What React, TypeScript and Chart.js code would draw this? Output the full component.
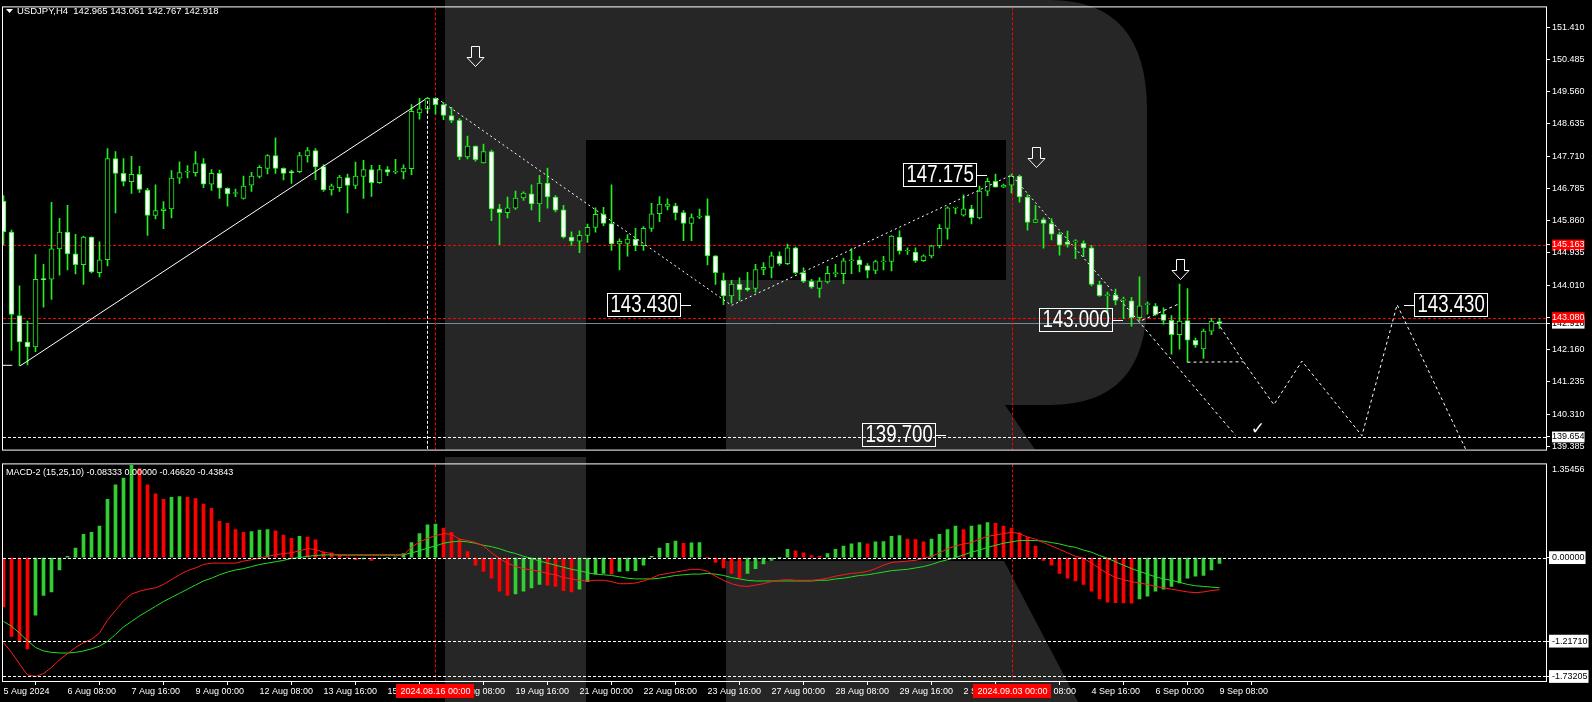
import React, { useEffect, useRef } from 'react';
import { Chart, registerables } from 'chart.js';

Chart.register(...registerables);

// ---------------- data ----------------
const opens = [
  146.42,145.53,143.14,142.38,142.24,144.18,144.18,145.05,145.53,144.91,
  144.60,145.39,144.37,144.74,147.64,147.22,146.98,147.19,146.74,146.01,
  146.15,146.20,147.08,147.25,147.24,147.50,146.91,147.22,146.79,146.64,
  146.50,146.88,147.13,147.36,147.73,147.36,147.26,147.27,147.72,147.87,
  147.41,146.74,146.81,147.10,146.87,147.13,147.33,146.95,147.33,147.25,
  147.26,147.35,148.95,149.07,149.37,149.19,148.88,148.74,147.69,148.00,
  147.52,147.84,146.20,146.09,146.22,146.51,146.63,146.34,146.94,146.54,
  146.17,145.39,145.27,145.44,145.67,146.04,145.78,145.19,145.21,145.33,
  145.14,145.64,146.06,146.27,146.29,146.09,145.78,145.96,146.01,144.85,
  144.15,143.70,144.04,143.93,143.92,144.46,144.52,144.85,144.63,145.08,
  144.37,144.12,143.92,144.10,144.34,144.34,144.71,144.74,144.57,144.43,
  144.68,144.69,145.39,144.99,144.96,144.71,144.85,145.14,145.64,146.22,
  146.02,146.20,145.94,146.71,146.99,146.82,146.88,147.14,146.54,145.81,
  145.89,145.78,145.47,145.25,145.25,145.21,145.08,144.03,143.71,143.73,
  143.58,143.56,143.08,143.45,143.41,143.17,143.00,142.59,142.99,142.43,
  142.18,142.69,142.965,
];
const highs = [
  146.58,145.59,143.99,142.98,144.89,144.61,146.39,145.93,146.30,145.47,
  145.42,145.40,145.25,147.93,147.84,147.64,147.71,147.42,146.79,146.89,
  146.41,147.30,147.55,147.44,147.84,147.64,147.33,147.31,146.80,146.77,
  147.14,147.25,147.44,147.76,148.24,147.38,147.31,147.82,147.96,147.93,
  147.47,146.91,147.16,147.20,147.54,147.59,147.45,147.45,147.41,147.62,
  147.46,149.19,149.37,149.40,149.39,149.25,149.11,148.79,148.29,148.01,
  148.06,147.89,146.33,146.54,146.71,146.69,146.89,147.16,147.37,146.58,
  146.30,145.54,145.57,145.76,146.23,146.24,146.89,145.34,145.46,145.64,
  145.69,146.36,146.55,146.49,146.36,146.15,146.06,146.19,146.49,144.86,
  144.36,144.15,144.22,144.38,144.61,144.66,144.96,144.97,145.19,145.10,
  144.51,144.18,144.23,144.55,144.61,144.78,145.06,144.83,144.63,144.72,
  144.84,145.43,145.57,145.08,145.08,144.88,145.16,145.75,146.26,146.25,
  146.60,146.30,146.85,147.08,147.20,146.91,147.20,147.17,146.60,146.30,
  145.94,145.92,145.53,145.56,145.32,145.28,145.15,144.13,143.81,143.90,
  143.67,143.66,144.25,143.53,143.48,143.36,143.14,144.04,143.91,142.49,
  142.75,143.06,143.061,
];
const lows = [
  145.17,142.14,141.70,141.72,142.10,143.38,143.60,144.30,144.45,144.33,
  144.03,144.36,144.25,144.56,146.08,146.86,146.64,146.67,145.44,145.91,
  145.63,145.94,146.93,147.09,147.14,146.81,146.73,146.50,146.28,146.55,
  146.48,146.70,147.09,147.20,147.22,147.03,146.93,147.24,147.54,147.04,
  146.70,146.59,146.70,146.08,146.78,146.50,146.56,146.93,147.15,147.21,
  147.06,147.18,148.77,148.97,148.92,148.76,148.67,147.61,147.63,147.57,
  147.51,145.86,145.17,145.94,146.18,146.44,146.17,145.83,146.22,146.11,
  145.36,145.15,144.94,145.24,145.53,145.72,145.01,144.45,144.84,145.00,
  145.01,145.55,145.83,146.17,145.88,145.29,145.29,145.92,144.59,144.03,
  143.45,143.49,143.57,143.84,143.81,144.31,144.22,144.58,144.60,144.34,
  144.08,143.92,143.66,144.07,144.25,144.05,144.34,144.39,144.22,144.34,
  144.45,144.42,144.90,144.89,144.66,144.69,144.79,145.08,145.33,146.06,
  145.99,145.77,145.91,146.58,146.82,146.81,146.66,146.39,145.59,145.80,
  145.07,145.31,144.87,145.10,144.77,144.83,143.99,143.69,143.20,143.44,
  143.05,142.83,142.99,143.18,143.14,142.89,142.03,142.17,141.80,142.22,
  141.91,142.59,142.767,
];
const closes = [
  145.54,143.17,142.38,142.24,144.18,144.17,145.05,145.53,144.91,144.60,
  145.39,144.39,144.74,147.64,147.22,146.99,147.19,146.76,146.01,146.15,
  146.20,147.08,147.24,147.26,147.50,146.91,147.22,146.79,146.63,146.65,
  146.85,147.14,147.39,147.73,147.36,147.22,147.24,147.73,147.87,147.40,
  146.74,146.86,147.11,146.87,147.14,147.33,146.95,147.33,147.25,147.26,
  147.37,149.00,149.07,149.37,149.19,148.88,148.74,147.69,148.00,147.61,
  147.84,146.20,146.09,146.23,146.51,146.65,146.34,146.94,146.54,146.16,
  145.39,145.27,145.44,145.67,146.04,145.78,145.19,145.27,145.33,145.14,
  145.64,146.06,146.34,146.34,146.08,145.78,145.95,145.97,144.85,144.37,
  143.70,144.04,143.87,143.87,144.46,144.52,144.85,144.63,145.08,144.37,
  144.12,143.95,144.13,144.35,144.35,144.71,144.74,144.60,144.43,144.69,
  144.69,145.42,144.99,145.00,144.71,144.85,145.14,145.64,146.23,146.23,
  146.20,145.95,146.71,146.99,146.82,146.88,147.14,146.54,145.81,145.89,
  145.78,145.47,145.16,145.18,145.25,145.08,144.03,143.71,143.72,143.57,
  143.58,143.08,143.42,143.45,143.17,143.00,142.59,142.98,142.43,142.29,
  142.69,142.98,142.918,
];

const macdHist = [
  -0.72,-1.15,-1.22,-1.33,-0.84,-0.55,-0.50,-0.18,0.02,0.14,
  0.34,0.37,0.46,0.85,1.06,1.16,1.35,1.30,1.06,0.93,
  0.85,0.88,0.89,0.88,0.86,0.78,0.72,0.53,0.50,0.41,
  0.37,0.38,0.40,0.41,0.39,0.33,0.28,0.31,0.30,0.26,
  0.08,0.07,0.04,0.00,-0.03,-0.02,-0.04,-0.01,0.00,0.01,
  0.06,0.22,0.35,0.48,0.49,0.43,0.37,0.27,0.09,-0.11,
  -0.20,-0.30,-0.49,-0.55,-0.53,-0.49,-0.44,-0.39,-0.40,-0.42,
  -0.48,-0.50,-0.46,-0.35,-0.24,-0.23,-0.24,-0.20,-0.195,-0.19,
  -0.11,0.02,0.14,0.21,0.24,0.21,0.215,0.22,0.00,-0.07,
  -0.15,-0.23,-0.30,-0.23,-0.16,-0.09,-0.04,0.00,0.12,0.10,
  0.07,0.03,0.02,0.06,0.12,0.17,0.20,0.22,0.20,0.23,
  0.235,0.31,0.32,0.27,0.265,0.23,0.27,0.34,0.41,0.46,
  0.41,0.46,0.48,0.51,0.50,0.46,0.43,0.36,0.30,0.17,
  -0.04,-0.11,-0.23,-0.30,-0.34,-0.39,-0.49,-0.60,-0.65,-0.655,
  -0.66,-0.665,-0.60,-0.56,-0.49,-0.46,-0.42,-0.37,-0.30,-0.27,
  -0.26,-0.18,-0.08333,
];
const macdLine = [
  -1.24,-1.38,-1.55,-1.71,-1.73,-1.69,-1.60,-1.49,-1.40,-1.31,
  -1.24,-1.19,-1.10,-0.91,-0.77,-0.63,-0.53,-0.49,-0.46,-0.44,
  -0.39,-0.32,-0.25,-0.19,-0.15,-0.10,-0.08,-0.08,-0.08,-0.08,
  -0.05,-0.03,-0.005,0.02,0.04,0.06,0.07,0.10,0.13,0.12,
  0.08,0.06,0.03,0.03,0.03,0.03,0.03,0.03,0.03,0.03,
  0.04,0.15,0.23,0.28,0.32,0.35,0.34,0.27,0.25,0.22,
  0.17,0.07,-0.01,-0.08,-0.13,-0.16,-0.18,-0.20,-0.23,-0.25,
  -0.29,-0.31,-0.33,-0.34,-0.33,-0.33,-0.35,-0.38,-0.38,-0.37,
  -0.34,-0.30,-0.25,-0.23,-0.21,-0.19,-0.17,-0.17,-0.20,-0.27,
  -0.33,-0.38,-0.41,-0.42,-0.40,-0.38,-0.35,-0.33,-0.32,-0.33,
  -0.33,-0.33,-0.32,-0.30,-0.27,-0.25,-0.23,-0.22,-0.20,-0.16,
  -0.11,-0.07,-0.06,-0.05,-0.04,-0.01,0.02,0.07,0.13,0.17,
  0.20,0.22,0.27,0.31,0.33,0.35,0.37,0.35,0.30,0.27,
  0.22,0.17,0.12,0.07,0.02,-0.01,-0.08,-0.16,-0.23,-0.29,
  -0.32,-0.35,-0.37,-0.39,-0.42,-0.44,-0.46,-0.48,-0.50,-0.51,
  -0.50,-0.48,-0.4662,
];
const signalLine = [
  -0.93,-1.00,-1.10,-1.21,-1.31,-1.36,-1.38,-1.39,-1.39,-1.38,
  -1.36,-1.33,-1.29,-1.22,-1.12,-1.01,-0.93,-0.85,-0.78,-0.71,
  -0.64,-0.58,-0.52,-0.46,-0.40,-0.34,-0.30,-0.25,-0.21,-0.18,
  -0.16,-0.13,-0.10,-0.08,-0.06,-0.04,-0.01,0.00,0.02,0.03,
  0.04,0.04,0.04,0.04,0.04,0.04,0.04,0.04,0.04,0.04,
  0.04,0.07,0.10,0.14,0.17,0.21,0.23,0.24,0.23,0.21,
  0.18,0.16,0.13,0.09,0.06,0.02,-0.01,-0.05,-0.08,-0.11,
  -0.14,-0.17,-0.19,-0.22,-0.24,-0.25,-0.26,-0.28,-0.30,-0.31,
  -0.31,-0.31,-0.30,-0.28,-0.26,-0.25,-0.24,-0.24,-0.23,-0.24,
  -0.26,-0.29,-0.31,-0.33,-0.34,-0.34,-0.34,-0.34,-0.34,-0.34,
  -0.34,-0.34,-0.33,-0.33,-0.31,-0.30,-0.28,-0.26,-0.25,-0.23,
  -0.21,-0.19,-0.18,-0.17,-0.15,-0.13,-0.10,-0.06,-0.03,0.00,
  0.04,0.08,0.11,0.15,0.18,0.21,0.23,0.25,0.25,0.25,
  0.24,0.22,0.20,0.17,0.15,0.11,0.08,0.03,-0.01,-0.06,
  -0.11,-0.16,-0.20,-0.24,-0.28,-0.31,-0.33,-0.36,-0.39,-0.41,
  -0.42,-0.43,-0.43843,
];

const xTickIdx = [0,8,16,24,32,40,48,56,64,72,80,88,96,104,112,120,128,136,144,152];
const xTickLabels = [
  '5 Aug 2024','6 Aug 08:00','7 Aug 16:00','9 Aug 00:00','12 Aug 08:00','13 Aug 16:00',
  '15 Aug 00:00','16 Aug 08:00','19 Aug 16:00','21 Aug 00:00','22 Aug 08:00','23 Aug 16:00',
  '27 Aug 00:00','28 Aug 08:00','29 Aug 16:00','2 Sep 00:00','3 Sep 08:00','4 Sep 16:00',
  '6 Sep 00:00','9 Sep 08:00',
];
const priceTicks = [151.41,150.485,149.56,148.635,147.71,146.785,145.86,145.163,144.935,144.01,142.918,143.08,142.16,141.235,140.31,139.654,139.385];
const redLevels = [145.163, 143.08];
const bidPrice = 142.918;
const supportLevel = 139.654;
const macdTicks = [0, -1.2171, -1.73205];
const macdTopLabel = '1.35456';
const vLineIdx = [54, 126];
const vLineLabels = ['2024.08.16 00:00', '2024.09.03 00:00'];

const trendLine = [{ x: 2.05, y: 141.69 }, { x: 52.7, y: 149.34 }];
const trendTag = [{ x: -0.3, y: 141.71 }, { x: 1.1, y: 141.71 }];
const vDashLine = [{ x: 53, y: 149.3 }, { x: 53, y: 139.0 }];
const zigzag = [{ x: 54.2, y: 149.37 }, { x: 91.0, y: 143.43 }, { x: 126.0, y: 147.17 }, { x: 141.8, y: 143.0 }];
const forecastA = [{ x: 141.8, y: 143.0 }, { x: 154.0, y: 139.7 }];
const forecastB = [{ x: 142.3, y: 143.0 }, { x: 146.8, y: 143.46 }];
const forecastH = [{ x: 148.0, y: 141.80 }, { x: 155.0, y: 141.81 }];
const forecastC = [
  { x: 151.7, y: 142.95 }, { x: 155.0, y: 141.81 }, { x: 158.8, y: 140.58 }, { x: 162.3, y: 141.83 },
  { x: 169.8, y: 139.69 }, { x: 174.2, y: 143.45 }, { x: 183.6, y: 138.9 },
];
const boxLabels = [
  { text: '143.430', x: 75.4, y: 143.43, tick: 'right' },
  { text: '147.175', x: 112.4, y: 147.175, tick: 'right' },
  { text: '143.000', x: 129.4, y: 143.0, tick: 'right' },
  { text: '139.700', x: 107.3, y: 139.7, tick: 'right' },
  { text: '143.430', x: 176.3, y: 143.43, tick: 'left' },
];
const arrowTips = [{ x: 58.9, y: 150.29 }, { x: 129.0, y: 147.39 }, { x: 147.0, y: 144.19 }];
const checkMark = { x: 156.8, y: 139.86 };
const headerText = 'USDJPY,H4  142.965 143.061 142.767 142.918';
const macdTitle = 'MACD-2 (15,25,10) -0.08333 0.00000 -0.46620 -0.43843';

// ---------------- styling ----------------
const GREEN = '#22ee22';
const HIST_GREEN = '#32cd32';
const RED = '#ff0000';
const WM = '#262626';
const FONT = '"Liberation Sans", Arial, sans-serif';
const X_MIN = -0.0625;
const X_MAX = 192.8125;

function lineDs(data: any[], dash: number[], color = '#ffffff') {
  return {
    type: 'line', data, borderColor: color, borderWidth: 1, borderDash: dash,
    pointRadius: 0, fill: false, tension: 0, order: 0,
  };
}

function isRedTick(v: number) { return redLevels.some((r) => Math.abs(r - v) < 1e-6); }
function isWhiteTick(v: number) { return Math.abs(v - bidPrice) < 1e-6 || Math.abs(v - supportLevel) < 1e-6; }

const mainDecor = {
  id: 'mainDecor',
  beforeDraw(chart: any) {
    const { ctx, chartArea: a } = chart;
    ctx.save();
    ctx.fillStyle = '#000';
    ctx.fillRect(0, 0, chart.width, chart.height);
    ctx.fillStyle = WM;
    ctx.fillRect(445, 0, 141, a.bottom);
    ctx.beginPath();
    ctx.moveTo(586, 0);
    ctx.lineTo(1050, 0);
    ctx.quadraticCurveTo(1147, 0, 1147, 110);
    ctx.lineTo(1147, 300);
    ctx.quadraticCurveTo(1147, 405, 1050, 405);
    ctx.lineTo(1005, 405);
    ctx.lineTo(1035, a.bottom);
    ctx.lineTo(726, a.bottom);
    ctx.lineTo(726, 280);
    ctx.lineTo(1006, 280);
    ctx.lineTo(1006, 140);
    ctx.lineTo(586, 140);
    ctx.closePath();
    ctx.fill();
    ctx.restore();
  },
  beforeDatasetsDraw(chart: any) {
    const { ctx, chartArea: a, scales } = chart;
    const y = scales.y, x = scales.x;
    ctx.save();
    ctx.beginPath();
    ctx.rect(a.left, a.top, a.right - a.left, a.bottom - a.top);
    ctx.clip();
    ctx.lineWidth = 1;
    const hline = (v: number, color: string, dash: number[]) => {
      const py = Math.round(y.getPixelForValue(v)) + 0.5;
      ctx.strokeStyle = color;
      ctx.setLineDash(dash);
      ctx.beginPath();
      ctx.moveTo(a.left, py);
      ctx.lineTo(a.right, py);
      ctx.stroke();
    };
    redLevels.forEach((v) => hline(v, RED, [3, 2]));
    hline(bidPrice, '#778899', []);
    hline(supportLevel, '#ffffff', [3, 2]);
    vLineIdx.forEach((i) => {
      const px = Math.round(x.getPixelForValue(i)) + 0.5;
      ctx.strokeStyle = RED;
      ctx.setLineDash([3, 2]);
      ctx.beginPath();
      ctx.moveTo(px, a.top);
      ctx.lineTo(px, a.bottom);
      ctx.stroke();
    });
    ctx.restore();
  },
  afterDatasetsDraw(chart: any) {
    const { ctx, chartArea: a, scales } = chart;
    const y = scales.y, x = scales.x;
    ctx.save();
    boxLabels.forEach((b) => {
      const left = Math.round(x.getPixelForValue(b.x));
      const py = Math.round(y.getPixelForValue(b.y));
      ctx.font = '23px ' + FONT;
      const tw = ctx.measureText(b.text).width * 0.81;
      const bw = Math.round(tw + 7);
      ctx.strokeStyle = '#ffffff';
      ctx.lineWidth = 1;
      ctx.setLineDash([]);
      ctx.strokeRect(left + 0.5, py - 11.5, bw - 1, 23);
      ctx.beginPath();
      if (b.tick === 'right') {
        ctx.moveTo(left + bw, py + 0.5);
        ctx.lineTo(left + bw + 10, py + 0.5);
      } else {
        ctx.moveTo(left - 10, py + 0.5);
        ctx.lineTo(left, py + 0.5);
      }
      ctx.stroke();
      ctx.fillStyle = '#ffffff';
      ctx.textBaseline = 'middle';
      ctx.textAlign = 'left';
      ctx.save();
      ctx.translate(left + 3.5, py + 1);
      ctx.scale(0.81, 1);
      ctx.fillText(b.text, 0, 0);
      ctx.restore();
    });
    ctx.strokeStyle = '#ffffff';
    ctx.lineWidth = 1;
    arrowTips.forEach((t) => {
      const cx = Math.round(x.getPixelForValue(t.x)) + 0.5;
      const ty = Math.round(y.getPixelForValue(t.y)) + 0.5;
      ctx.beginPath();
      ctx.moveTo(cx - 4, ty - 20);
      ctx.lineTo(cx + 4, ty - 20);
      ctx.lineTo(cx + 4, ty - 9);
      ctx.lineTo(cx + 8.5, ty - 9);
      ctx.lineTo(cx, ty);
      ctx.lineTo(cx - 8.5, ty - 9);
      ctx.lineTo(cx - 4, ty - 9);
      ctx.closePath();
      ctx.stroke();
    });
    ctx.fillStyle = '#ffffff';
    ctx.font = '17px "DejaVu Sans", sans-serif';
    ctx.textAlign = 'center';
    ctx.textBaseline = 'middle';
    ctx.fillText('\u2713', x.getPixelForValue(checkMark.x), y.getPixelForValue(checkMark.y));
    ctx.strokeStyle = '#ffffff';
    ctx.strokeRect(a.left - 0.5, a.top - 0.5, a.right - a.left + 1, a.bottom - a.top + 1);
    ctx.beginPath();
    ctx.moveTo(6, 9);
    ctx.lineTo(13, 9);
    ctx.lineTo(9.5, 13);
    ctx.closePath();
    ctx.fill();
    ctx.font = '9.5px ' + FONT;
    ctx.textAlign = 'left';
    ctx.textBaseline = 'middle';
    ctx.fillText(headerText, 17, 11);
    ctx.restore();
  },
};

const macdDecor = {
  id: 'macdDecor',
  beforeDraw(chart: any) {
    const { ctx } = chart;
    const h = chart.height;
    ctx.save();
    ctx.fillStyle = '#000';
    ctx.fillRect(0, 0, chart.width, h);
    ctx.fillStyle = WM;
    ctx.fillRect(445, 0, 141, h);
    ctx.beginPath();
    ctx.moveTo(726, 104);
    ctx.lineTo(1004, 104);
    ctx.lineTo(1004 + (h - 104) * 0.525, h);
    ctx.lineTo(726, h);
    ctx.closePath();
    ctx.fill();
    ctx.restore();
  },
  beforeDatasetsDraw(chart: any) {
    const { ctx, chartArea: a, scales } = chart;
    const x = scales.x;
    ctx.save();
    ctx.lineWidth = 1;
    vLineIdx.forEach((i) => {
      const px = Math.round(x.getPixelForValue(i)) + 0.5;
      ctx.strokeStyle = RED;
      ctx.setLineDash([3, 2]);
      ctx.beginPath();
      ctx.moveTo(px, a.top);
      ctx.lineTo(px, a.bottom);
      ctx.stroke();
    });
    ctx.restore();
  },
  afterDatasetsDraw(chart: any) {
    const { ctx, chartArea: a, scales } = chart;
    const y = scales.y;
    ctx.save();
    ctx.lineWidth = 1;
    ctx.strokeStyle = '#ffffff';
    ctx.setLineDash([3, 2]);
    macdTicks.forEach((v) => {
      const py = Math.round(y.getPixelForValue(v)) + 0.5;
      ctx.beginPath();
      ctx.moveTo(a.left, py);
      ctx.lineTo(a.right, py);
      ctx.stroke();
    });
    ctx.setLineDash([]);
    ctx.strokeRect(a.left - 0.5, a.top - 0.5, a.right - a.left + 1, a.bottom - a.top + 1);
    ctx.fillStyle = '#ffffff';
    ctx.font = '9px ' + FONT;
    ctx.textAlign = 'left';
    ctx.textBaseline = 'middle';
    ctx.fillText(macdTitle, 6, a.top + 8);
    ctx.fillText(macdTopLabel, a.right + 6, a.top + 5.5);
    ctx.restore();
  },
  afterDraw(chart: any) {
    const { ctx, chartArea: a, scales } = chart;
    const x = scales.x;
    ctx.save();
    ctx.font = '9px ' + FONT;
    ctx.textAlign = 'center';
    ctx.textBaseline = 'middle';
    vLineIdx.forEach((i, k) => {
      const cx = Math.round(x.getPixelForValue(i));
      ctx.fillStyle = RED;
      ctx.fillRect(cx - 39, a.bottom + 3, 78, 14);
      ctx.fillStyle = '#ffffff';
      ctx.fillText(vLineLabels[k], cx + 0.5, a.bottom + 10.5);
    });
    ctx.restore();
  },
};

export default function App() {
  const mainRef = useRef<HTMLCanvasElement>(null);
  const macdRef = useRef<HTMLCanvasElement>(null);

  useEffect(() => {
    document.body.style.margin = '0';
    document.body.style.background = '#000';

    const bodyColors = opens.map((o, i) => (closes[i] >= o ? '#000000' : '#ffffff'));
    const histColors: string[] = [];
    macdHist.forEach((v, i) => {
      if (i === 0) histColors.push(RED);
      else if (v > macdHist[i - 1]) histColors.push(HIST_GREEN);
      else if (v < macdHist[i - 1]) histColors.push(RED);
      else histColors.push(histColors[i - 1]);
    });

    const main = new Chart(mainRef.current as HTMLCanvasElement, {
      type: 'bar',
      data: {
        datasets: [
          lineDs(trendLine, []),
          lineDs(trendTag, []),
          lineDs(vDashLine, [3, 2]),
          lineDs(zigzag, [2, 3]),
          lineDs(forecastA, [3, 3]),
          lineDs(forecastB, [3, 3]),
          lineDs(forecastH, [3, 3]),
          lineDs(forecastC, [3, 3]),
          {
            type: 'bar',
            data: opens.map((o, i) => ({ x: i, y: [o, closes[i]] })),
            backgroundColor: bodyColors,
            borderColor: GREEN,
            borderWidth: 1,
            borderSkipped: false,
            barThickness: 5,
            minBarLength: 1,
            grouped: false,
            order: 2,
          },
          {
            type: 'bar',
            data: lows.map((l, i) => ({ x: i, y: [l, highs[i]] })),
            backgroundColor: GREEN,
            borderWidth: 0,
            barThickness: 1,
            grouped: false,
            order: 3,
          },
        ] as any,
      },
      options: {
        responsive: false,
        animation: false,
        devicePixelRatio: 1,
        layout: { padding: { left: 3, top: 3, right: 0, bottom: 3 } },
        plugins: { legend: { display: false }, tooltip: { enabled: false } },
        scales: {
          x: { type: 'linear', min: X_MIN, max: X_MAX, display: false, offset: false },
          y: {
            type: 'linear',
            position: 'right',
            min: 139.291,
            max: 151.981,
            afterFit: (s: any) => { s.width = 46; },
            afterBuildTicks: (s: any) => { s.ticks = priceTicks.map((v) => ({ value: v })); },
            grid: { display: true, drawOnChartArea: false, drawTicks: true, tickLength: 4, color: '#ffffff' },
            border: { display: false },
            ticks: {
              autoSkip: false,
              padding: 2,
              font: { family: FONT, size: 9 },
              color: (c: any) => (isWhiteTick(c.tick.value) ? '#000000' : '#ffffff'),
              showLabelBackdrop: (c: any) => isRedTick(c.tick.value) || isWhiteTick(c.tick.value),
              backdropColor: (c: any) => (isRedTick(c.tick.value) ? RED : '#ffffff'),
              backdropPadding: (c: any) => (isRedTick(c.tick.value)
                ? { left: 3, right: 8, top: 1, bottom: 1 }
                : { left: 3, right: 1, top: 1, bottom: 1 }),
              callback: (v: any) => Number(v).toFixed(3),
            },
          },
        },
      } as any,
      plugins: [mainDecor],
    });

    const macd = new Chart(macdRef.current as HTMLCanvasElement, {
      type: 'bar',
      data: {
        datasets: [
          { ...lineDs(macdLine.map((v, i) => ({ x: i, y: v })), [], '#ff1a1a') },
          { ...lineDs(signalLine.map((v, i) => ({ x: i, y: v })), [], '#22dd22') },
          {
            type: 'bar',
            data: macdHist.map((v, i) => ({ x: i, y: v })),
            backgroundColor: histColors,
            borderWidth: 0,
            barThickness: 3,
            grouped: false,
            order: 1,
          },
        ] as any,
      },
      options: {
        responsive: false,
        animation: false,
        devicePixelRatio: 1,
        layout: { padding: { left: 3, top: 1, right: 0, bottom: 0 } },
        plugins: { legend: { display: false }, tooltip: { enabled: false } },
        scales: {
          x: {
            type: 'linear',
            position: 'bottom',
            min: X_MIN,
            max: X_MAX,
            offset: false,
            afterFit: (s: any) => { s.height = 21; },
            afterBuildTicks: (s: any) => { s.ticks = xTickIdx.map((v) => ({ value: v })); },
            grid: { display: true, drawOnChartArea: false, drawTicks: true, tickLength: 4, color: '#ffffff' },
            border: { display: false },
            ticks: {
              autoSkip: false,
              maxRotation: 0,
              minRotation: 0,
              align: 'start',
              padding: 1,
              color: '#ffffff',
              font: { family: FONT, size: 9 },
              callback: (_v: any, idx: number) => xTickLabels[idx],
            },
          },
          y: {
            type: 'linear',
            position: 'right',
            min: -1.7981,
            max: 1.3592,
            afterFit: (s: any) => { s.width = 46; },
            afterBuildTicks: (s: any) => { s.ticks = macdTicks.map((v) => ({ value: v })); },
            grid: { display: true, drawOnChartArea: false, drawTicks: true, tickLength: 4, color: '#ffffff' },
            border: { display: false },
            ticks: {
              autoSkip: false,
              padding: 2,
              font: { family: FONT, size: 9 },
              color: '#000000',
              showLabelBackdrop: true,
              backdropColor: '#ffffff',
              backdropPadding: { left: 3, right: 1, top: 1, bottom: 1 },
              callback: (v: any) => Number(v).toFixed(5),
            },
          },
        },
      } as any,
      plugins: [macdDecor],
    });

    return () => {
      main.destroy();
      macd.destroy();
    };
  }, []);

  return (
    <div style={{ position: 'relative', width: 1592, height: 702, background: '#000', overflow: 'hidden' }}>
      <canvas ref={mainRef} width={1592} height={457}
        style={{ position: 'absolute', left: 0, top: 0, width: 1592, height: 457 }} />
      <canvas ref={macdRef} width={1592} height={245}
        style={{ position: 'absolute', left: 0, top: 457, width: 1592, height: 245 }} />
    </div>
  );
}
